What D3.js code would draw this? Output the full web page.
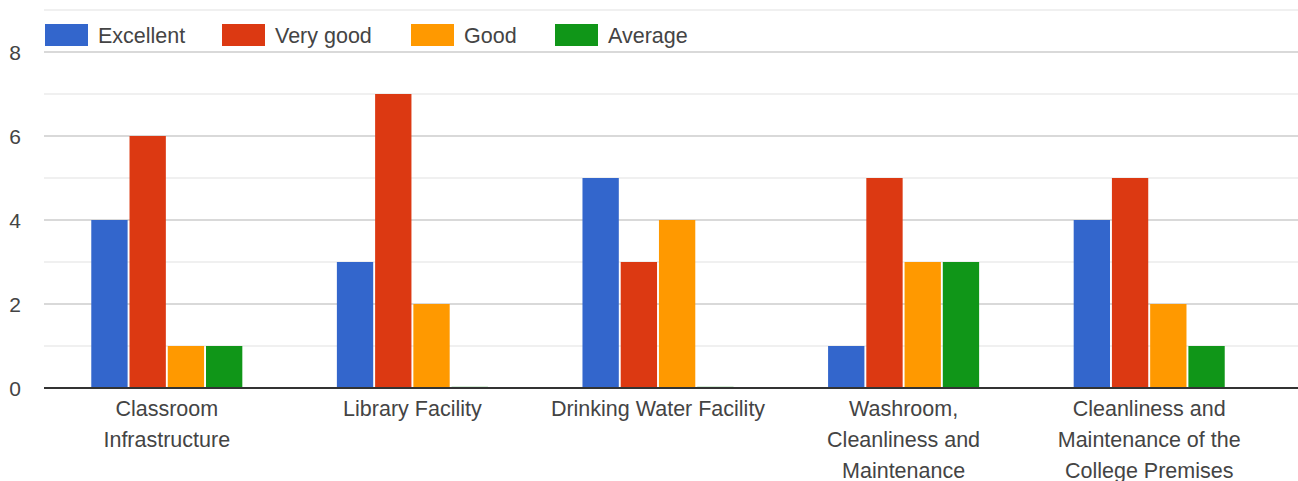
<!DOCTYPE html>
<html>
<head>
<meta charset="utf-8">
<script src="https://cdn.jsdelivr.net/npm/d3@7"></script>
<style>
body { margin: 0; background: #fff; }
svg text { font-family: "Liberation Sans", Arial, sans-serif; fill: #444; }
</style>
</head>
<body>
<svg id="chart"></svg>
<script>
var width = 1298;
var height = 481;

var categories = [
	["Classroom", "Infrastructure"],
	["Library Facility"],
	["Drinking Water Facility"],
	["Washroom,", "Cleanliness and", "Maintenance"],
	["Cleanliness and", "Maintenance of the", "College Premises"]
];
var seriesNames = ["Excellent", "Very good", "Good", "Average"];
var colors = ["#3366cc", "#dc3912", "#ff9900", "#109618"];

var excellent = [4, 3, 5, 1, 4];
var veryGood = [6, 7, 3, 5, 5];
var good = [1, 2, 4, 3, 2];
var average = [1, 0, 0, 3, 1];
var series = [excellent, veryGood, good, average];

var majorTicks = [0, 2, 4, 6, 8];
var minorTicks = [1, 3, 5, 7, 9];

var svg = d3.select('#chart')
	.attr('width', width)
	.attr('height', height);

var y = d3.scaleLinear().domain([0, 8]).range([388, 52]);
var x0 = d3.scaleBand()
	.domain(d3.range(categories.length))
	.range([44, 1272])
	.paddingInner(0.385)
	.paddingOuter(0.1925);
var x1 = d3.scaleBand()
	.domain(d3.range(seriesNames.length))
	.range([0, x0.bandwidth()])
	.paddingInner(0.05);

// gridlines
svg.append('g').selectAll('line')
	.data(minorTicks)
	.enter()
	.append('line')
	.attr('x1', 44).attr('x2', width)
	.attr('y1', function(d) { return y(d); })
	.attr('y2', function(d) { return y(d); })
	.attr('stroke', '#ebebeb')
	.attr('stroke-width', 1.5);
svg.append('g').selectAll('line')
	.data(majorTicks.slice(1))
	.enter()
	.append('line')
	.attr('x1', 44).attr('x2', width)
	.attr('y1', function(d) { return y(d); })
	.attr('y2', function(d) { return y(d); })
	.attr('stroke', '#cccccc')
	.attr('stroke-width', 1.5);

// y labels
svg.append('g').selectAll('text')
	.data(majorTicks)
	.enter()
	.append('text')
	.attr('x', 21)
	.attr('y', function(d) { return y(d); })
	.attr('dy', '0.36em')
	.attr('text-anchor', 'end')
	.style('font-size', '21px')
	.text(function(d) { return d; });

// bars
var groups = svg.append('g').selectAll('g')
	.data(categories)
	.enter()
	.append('g')
	.attr('transform', function(d, i) { return 'translate(' + x0(i) + ',0)'; });
groups.selectAll('rect')
	.data(function(d, i) { return series.map(function(s, j) { return { v: s[i], j: j }; }); })
	.enter()
	.append('rect')
	.attr('x', function(d) { return x1(d.j); })
	.attr('width', x1.bandwidth())
	.attr('y', function(d) { return d.v > 0 ? y(d.v) : y(0) - 1.5; })
	.attr('height', function(d) { return d.v > 0 ? y(0) - y(d.v) : 1.5; })
	.attr('fill', function(d) { return colors[d.j]; })
	.attr('opacity', function(d) { return d.v > 0 ? 1 : 0.35; });

// baseline
svg.append('line')
	.attr('x1', 44).attr('x2', width)
	.attr('y1', y(0)).attr('y2', y(0))
	.attr('stroke', '#333')
	.attr('stroke-width', 2);

// category labels
var labels = svg.append('g').selectAll('text')
	.data(categories)
	.enter()
	.append('text')
	.attr('x', function(d, i) { return x0(i) + x0.bandwidth() / 2; })
	.attr('y', 416)
	.attr('text-anchor', 'middle')
	.style('font-size', '21.5px');
labels.selectAll('tspan')
	.data(function(d) { return d; })
	.enter()
	.append('tspan')
	.attr('x', function() { return d3.select(this.parentNode).attr('x'); })
	.attr('dy', function(d, i) { return i == 0 ? 0 : 31; })
	.text(function(d) { return d; });

// legend
var legendX = [45, 222, 411, 555];
var legend = svg.append('g').selectAll('g')
	.data(seriesNames)
	.enter()
	.append('g')
	.attr('transform', function(d, i) { return 'translate(' + legendX[i] + ',24)'; });
legend.append('rect')
	.attr('width', 43)
	.attr('height', 22)
	.attr('fill', function(d, i) { return colors[i]; });
legend.append('text')
	.attr('x', 53)
	.attr('y', 11)
	.attr('dy', '0.36em')
	.style('font-size', '21.5px')
	.text(function(d) { return d; });
</script>
</body>
</html>
